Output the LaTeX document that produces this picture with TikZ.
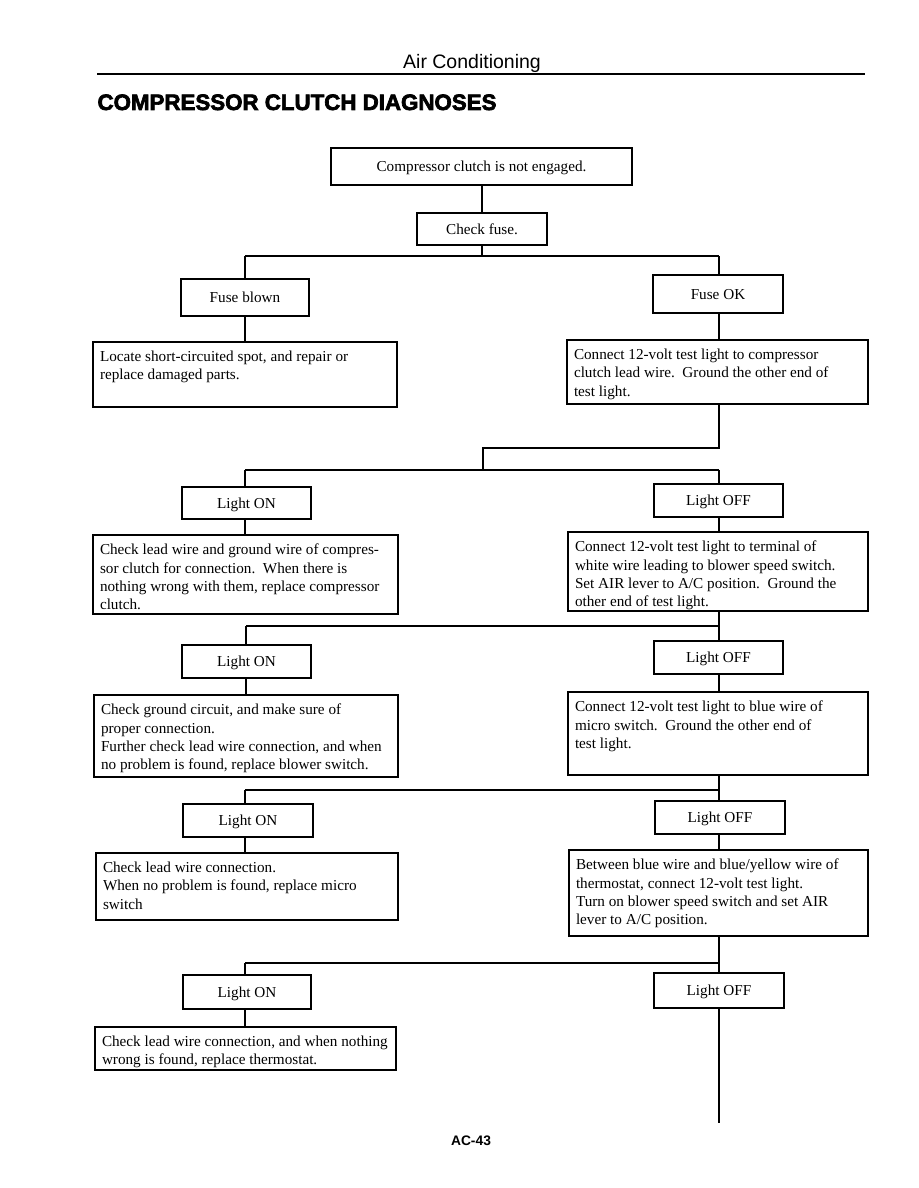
\documentclass[tikz,border=0pt]{standalone}
\usepackage{fontspec}
\setmainfont{Liberation Serif}
\newfontfamily\hdfont{Liberation Sans}
\newfontfamily\titlefont[FakeBold=3]{Liberation Sans Bold}
\newcommand\bodyfont{\fontsize{15.2}{18.4}\selectfont}
\newcommand\btext[3]{\parbox[c][#2pt][t]{#1pt}{\vspace*{9pt}\raggedright\bodyfont #3}}
\begin{document}
\begin{tikzpicture}[x=1pt,y=-1pt,line width=1.1pt,
  sbox/.style={draw,inner sep=0pt,align=center,font=\bodyfont,text height=10pt,text depth=0pt},
  tbox/.style={draw,inner xsep=7pt,inner ysep=0pt},
  conn/.style={line width=1.1pt}]
\useasboundingbox (0,0) rectangle (918,1188);
% header
\node[font=\hdfont\fontsize{19.5}{22}\selectfont,anchor=base] (hd) at (472,69) {Air Conditioning};
\coordinate (r1) at (97,74);
\coordinate (r2) at (865,74);
\draw[line width=2pt] (r1) -- (r2);
\node[font=\titlefont\fontsize{22.3}{25}\selectfont,anchor=base west,inner sep=0pt] (title) at (97,110) {COMPRESSOR CLUTCH DIAGNOSES};
% boxes
\node[sbox,minimum width=301pt,minimum height=37pt] (top) at (481.5,166.5) {Compressor clutch is not engaged.};
\node[sbox,minimum width=130pt,minimum height=32pt] (fuse) at (482,229) {Check fuse.};
\node[sbox,minimum width=128pt,minimum height=37pt] (blown) at (245,297.5) {Fuse blown};
\node[sbox,minimum width=130pt,minimum height=38pt] (ok) at (718,294) {Fuse OK};
\node[tbox] (act1) at (245,374.5) {\btext{290}{65}{Locate short-circuited spot, and repair or\\replace damaged parts.}};
\node[tbox] (t1) at (717.5,372) {\btext{287}{64}{Connect 12-volt test light to compressor\\clutch lead wire.\ \ Ground the other end of\\test light.}};
\node[sbox,minimum width=129pt,minimum height=32pt] (on1) at (246.5,503) {Light ON};
\node[sbox,minimum width=129pt,minimum height=33pt] (off1) at (718.5,500.5) {Light OFF};
\node[tbox] (act2) at (245.5,574.5) {\btext{291}{79}{Check lead wire and ground wire of compres-\\sor clutch for connection.\ \ When there is\\nothing wrong with them, replace compressor\\clutch.}};
\node[tbox] (t2) at (718,571.5) {\btext{286}{79}{Connect 12-volt test light to terminal of\\white wire leading to blower speed switch.\\Set AIR lever to A/C position.\ \ Ground the\\other end of test light.}};
\node[sbox,minimum width=129pt,minimum height=33pt] (on2) at (246.5,661.5) {Light ON};
\node[sbox,minimum width=129pt,minimum height=33pt] (off2) at (718.5,657.5) {Light OFF};
\node[tbox] (act3) at (246,736) {\btext{290}{82}{Check ground circuit, and make sure of\\proper connection.\\Further check lead wire connection, and when\\no problem is found, replace blower switch.}};
\node[tbox] (t3) at (718,733.5) {\btext{286}{83}{Connect 12-volt test light to blue wire of\\micro switch.\ \ Ground the other end of\\test light.}};
\node[sbox,minimum width=130pt,minimum height=33pt] (on3) at (248,820.5) {Light ON};
\node[sbox,minimum width=130pt,minimum height=33pt] (off3) at (720,817.5) {Light OFF};
\node[tbox] (act4) at (247,886.5) {\btext{288}{67}{Check lead wire connection.\\When no problem is found, replace micro\\switch}};
\node[tbox] (t4) at (718.5,893) {\btext{285}{86}{Between blue wire and blue/yellow wire of\\thermostat, connect 12-volt test light.\\Turn on blower speed switch and set AIR\\lever to A/C position.}};
\node[sbox,minimum width=128pt,minimum height=34pt] (on4) at (247,992) {Light ON};
\node[sbox,minimum width=130pt,minimum height=35pt] (off4) at (719,990.5) {Light OFF};
\node[tbox] (act5) at (245.5,1048.5) {\btext{287}{43}{Check lead wire connection, and when nothing\\wrong is found, replace thermostat.}};
\node[font=\hdfont\bfseries\fontsize{13.8}{16}\selectfont,anchor=base] (page) at (471,1145) {AC-43};
% bus coordinates
\coordinate (b1L) at (245,256); \coordinate (b1R) at (719,256);
\coordinate (j1) at (483,448);
\coordinate (b2L) at (245,470); \coordinate (b2R) at (719,470);
\coordinate (b3L) at (246,626); \coordinate (b3R) at (719,626);
\coordinate (b4L) at (245,790); \coordinate (b4R) at (719,790);
\coordinate (b5L) at (245,963); \coordinate (b5R) at (719,963);
\coordinate (endpt) at (719,1123);
% connectors
\draw[conn] (fuse.north) -- (fuse.north |- top.south);
\draw[conn] (fuse.south) -- (fuse.south |- b1L);
\draw[conn] (b1L) -- (b1R);
\draw[conn] (b1L) -- (blown.north -| b1L);
\draw[conn] (b1R) -- (ok.north -| b1R);
\draw[conn] (blown.south -| b1L) -- (act1.north -| b1L);
\draw[conn] (ok.south -| b1R) -- (t1.north -| b1R);
\draw[conn] (t1.south -| b1R) |- (j1) -- (j1 |- b2L);
\draw[conn] (b2L) -- (b2R);
\draw[conn] (b2L) -- (on1.north -| b2L);
\draw[conn] (b2R) -- (off1.north -| b2R);
\draw[conn] (on1.south -| b2L) -- (act2.north -| b2L);
\draw[conn] (off1.south -| b2R) -- (t2.north -| b2R);
\draw[conn] (t2.south -| b3R) -- (off2.north -| b3R);
\draw[conn] (b3L) -- (b3R);
\draw[conn] (b3L) -- (on2.north -| b3L);
\draw[conn] (on2.south -| b3L) -- (act3.north -| b3L);
\draw[conn] (off2.south -| b3R) -- (t3.north -| b3R);
\draw[conn] (t3.south -| b4R) -- (off3.north -| b4R);
\draw[conn] (b4L) -- (b4R);
\draw[conn] (b4L) -- (on3.north -| b4L);
\draw[conn] (on3.south -| b4L) -- (act4.north -| b4L);
\draw[conn] (off3.south -| b4R) -- (t4.north -| b4R);
\draw[conn] (t4.south -| b5R) -- (off4.north -| b5R);
\draw[conn] (b5L) -- (b5R);
\draw[conn] (b5L) -- (on4.north -| b5L);
\draw[conn] (on4.south -| b5L) -- (act5.north -| b5L);
\draw[conn] (off4.south -| b5R) -- (endpt);
\end{tikzpicture}
\end{document}
